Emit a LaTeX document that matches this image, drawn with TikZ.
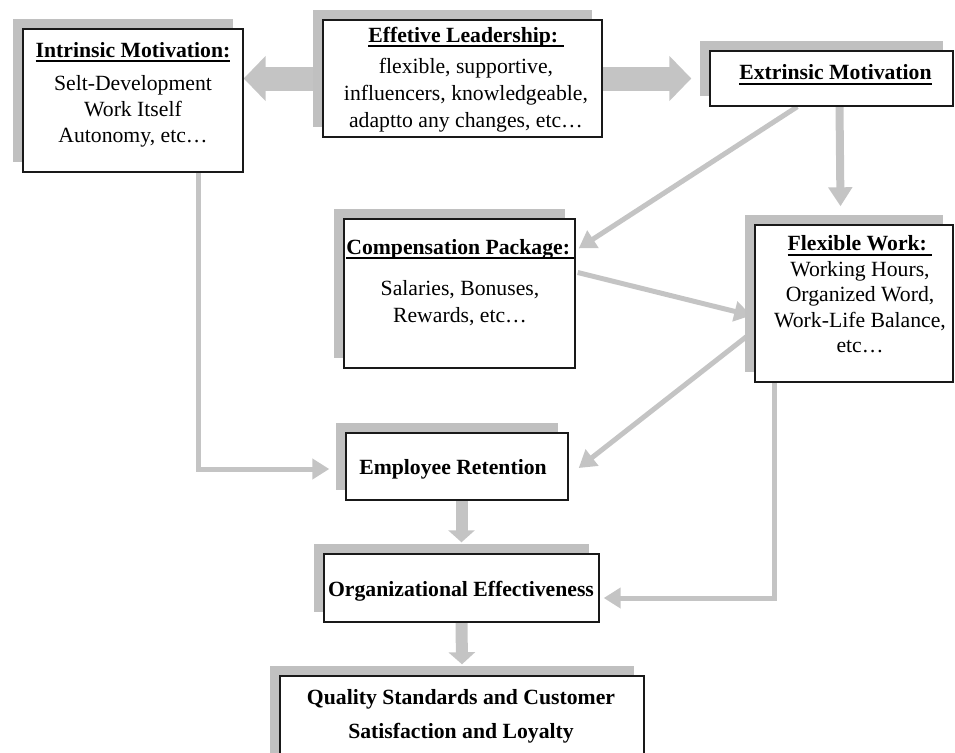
\documentclass[tikz,border=0pt]{standalone}
\usepackage{fontspec}
\setmainfont{Liberation Serif}
\usetikzlibrary{arrows.meta,shadows,calc,backgrounds}
\definecolor{argray}{RGB}{196,196,196}
\definecolor{shgray}{RGB}{192,192,192}
\newcommand{\hdul}[1]{\setbox0\hbox{\bfseries #1}\rlap{\rule[-5pt]{\wd0}{1.8pt}}\box0}
\begin{document}
\begin{tikzpicture}[x=1pt,y=-1pt,
  box/.style={draw=black!90, line width=1.4pt, fill=white, inner sep=0pt, rectangle,
     general shadow={fill=shgray, shadow xshift=-10pt, shadow yshift=10pt}},
  txt/.style={align=center, inner sep=0pt, font=\fontsize{21.7}{26.5}\selectfont},
  thinarrow/.style={draw=argray, line width=5pt, -{Triangle[width=20pt,length=17pt]}},
  midarrow/.style={draw=argray, line width=8pt, -{Triangle[width=23pt,length=19pt]}},
  boldarrow/.style={draw=argray, line width=12pt, -{Triangle[width=26pt,length=12pt]}},
  fatarrow/.style={draw=argray, line width=24pt, -{Triangle[width=44pt,length=22pt]}}
]
\useasboundingbox (0,0) rectangle (955,752);
\clip (0,0) rectangle (955,752);

% boxes
\node[box, minimum width=220pt, minimum height=143pt] (intr) at (133,100.5) {};
\node[box, minimum width=279pt, minimum height=117pt] (lead) at (462.5,78.5) {};
\node[box, minimum width=243pt, minimum height=55pt] (extr) at (831.5,78.5) {};
\node[box, minimum width=231pt, minimum height=149pt] (comp) at (459.5,293.5) {};
\node[box, minimum width=198pt, minimum height=157pt] (flex) at (854,303.5) {};
\node[box, minimum width=222pt, minimum height=67pt] (ret) at (457,466.5) {};
\node[box, minimum width=275pt, minimum height=68pt] (org) at (461.5,588) {};
\node[box, minimum width=364pt, minimum height=110pt] (qual) at (462,731) {};

% texts
\node[txt, anchor=north, font=\fontsize{21.7}{26}\selectfont] (intrtxt) at (133,41.8)
  {\hdul{Intrinsic Motivation:}\\[7pt] Selt-Development\\ Work Itself\\ Autonomy, etc\ldots};
\node[txt, anchor=north, font=\fontsize{21.7}{27}\selectfont] (leadtxt) at (466,26.8)
  {\hdul{Effetive Leadership:\ }\\[4pt] flexible, supportive,\\ influencers, knowledgeable,\\ adaptto any changes, etc\ldots};
\node[txt, anchor=base] (extrtxt) at (835.5,79.5) {\hdul{Extrinsic Motivation}};
\node[txt, anchor=north, font=\fontsize{21.7}{27}\selectfont] (comptxt) at (460,238.8)
  {\hdul{Compensation Package:\,}\\[14.5pt] Salaries, Bonuses,\\ Rewards, etc\ldots};
\node[txt, anchor=north, font=\fontsize{21.7}{25.5}\selectfont] (flextxt) at (860,235.3)
  {\hdul{Flexible Work:\ }\\ Working Hours,\\ Organized Word,\\ Work-Life Balance,\\ etc\ldots};
\node[txt, anchor=base] (rettxt) at (453,474.5) {\bfseries Employee Retention};
\node[txt, anchor=base] (orgtxt) at (461,596) {\bfseries Organizational Effectiveness};
\node[txt, anchor=north, font=\fontsize{21.7}{34}\selectfont] (qualtxt) at (461,689.3)
  {\bfseries Quality Standards and Customer\\ \bfseries Satisfaction and Loyalty};

% connectors
\begin{scope}[on background layer]
\draw[fatarrow] (lead.west) -- (lead.west -| intr.east);
\draw[fatarrow] (lead.east) -- ($(lead.east -| extr.west)+(-18,0)$);
\draw[thinarrow] ($(extr.south west)!0.36!(extr.south east)$) -- ($(comp.north east)!0.2!(comp.south east)+(3,0)$);
\draw[midarrow] ($(extr.south)+(8,0)$) -- ($(extr.south |- flex.north)+(9,-18)$);
\draw[thinarrow] ($(comp.east)+(2,-21)$) -- ($(flex.west)+(-3,12)$);
\draw[thinarrow] ($(flex.west)+(0,27)$) -- ($(ret.east)+(10,1.5)$);
\draw[thinarrow] ($(flex.south west)+(20,0)$) |- ($(org.east)+(4,10)$);
\draw[thinarrow] ($(intr.south)+(65,0)$) |- ($(ret.west)+(-16,2.5)$);
\draw[boldarrow] (ret.south -| org.north) -- ($(org.north)+(0,-11)$);
\draw[boldarrow] (org.south) -- ($(qual.north)+(0,-11)$);
\end{scope}
\end{tikzpicture}
\end{document}
